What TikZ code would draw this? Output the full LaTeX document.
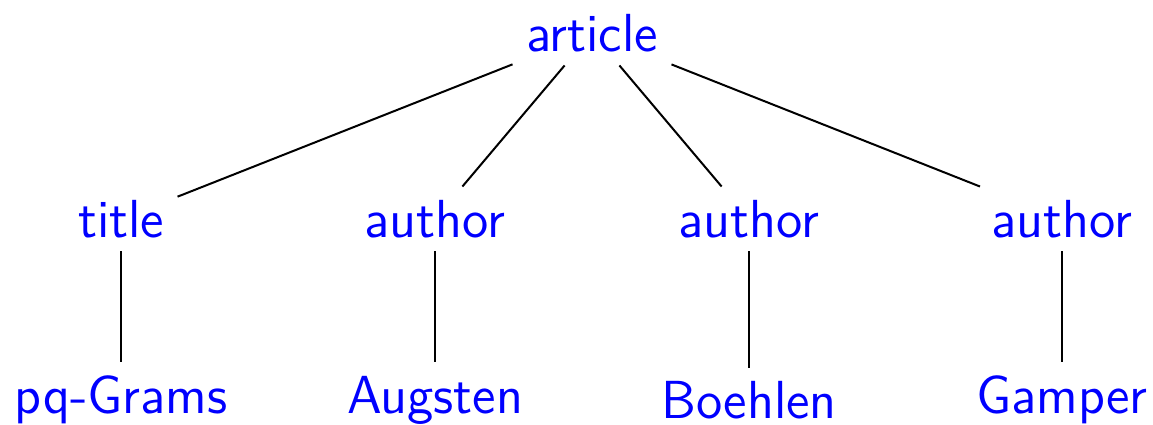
\documentclass[tikz,border=0pt]{standalone}
\begin{document}
\begin{tikzpicture}[x=0.25pt,y=-0.25pt]
\tikzset{lbl/.style={text=blue, font=\fontsize{13.4}{16}\selectfont\sffamily, inner sep=3.2pt},
  edge/.style={draw=black, line width=0.5pt}}
\useasboundingbox (0,0) rectangle (1153,425);
\node[lbl] (article) at (592,33) {article};
\node[lbl] (title) at (121,219) {title};
\node[lbl] (a1) at (435,219) {author};
\node[lbl] (a2) at (749,219) {author};
\node[lbl] (a3) at (1062,219) {author};
\node[lbl] (l1) at (121,400) {pq-Grams};
\node[lbl] (l2) at (435,400) {Augsten};
\node[lbl] (l3) at (749,400) {Boehlen};
\node[lbl] (l4) at (1062,400) {Gamper};
\draw[edge] (article) -- (title);
\draw[edge] (article) -- (a1);
\draw[edge] (article) -- (a2);
\draw[edge] (article) -- (a3);
\draw[edge] (title) -- (l1);
\draw[edge] (a1) -- (l2);
\draw[edge] (a2) -- (l3);
\draw[edge] (a3) -- (l4);
\end{tikzpicture}
\end{document}
